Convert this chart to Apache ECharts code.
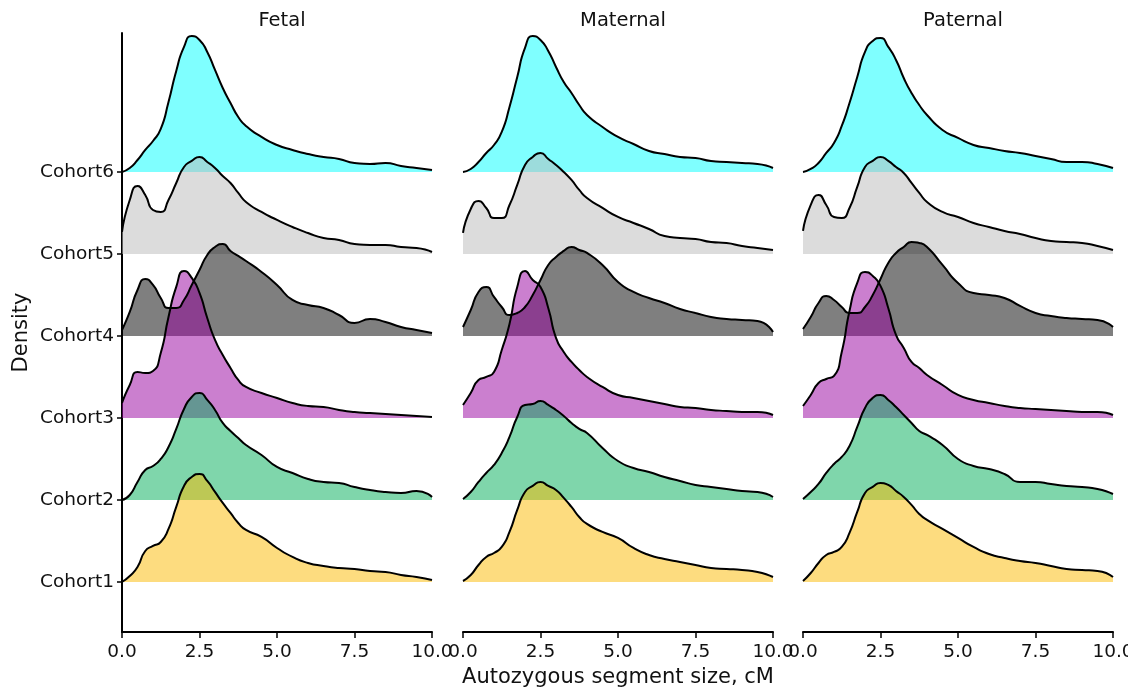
<!DOCTYPE html>
<html>
  <head>
    <meta charset="utf-8" />
    <title>Autozygous segment ridgeline</title>
    <script src="https://cdn.jsdelivr.net/npm/echarts@6.0.0/dist/echarts.min.js"></script>
  </head>
  <body style="margin: 0">
    <div id="chart" style="width: 1128px; height: 687px"></div>
    <script>
      /* ======= data ======= */
      var panels = ["Fetal", "Maternal", "Paternal"];
      var categories = ["Cohort1", "Cohort2", "Cohort3", "Cohort4", "Cohort5", "Cohort6"];
      var xTicks = [0, 2.5, 5, 7.5, 10];
      // segment size (cM) where the densities were read
      var xs = [0, 0.25, 0.5, 0.75, 1, 1.25, 1.5, 1.75, 2, 2.25, 2.5, 2.75, 3, 3.25, 3.5, 3.75, 4,
        4.5, 5, 5.5, 6, 6.5, 7, 7.5, 8, 8.5, 9, 9.5, 10];

      // relative density per cohort (Cohort1 .. Cohort6)
      var fetal = [
        [0, .06, .15, .31, .36, .40, .53, .75, .96, 1.05, 1.08, 1.01, .90, .79, .69, .59, .52, .45, .34, .25, .19, .16, .14, .13, .11, .10, .07, .05, .02],
        [0, .05, .18, .30, .34, .41, .53, .71, .91, 1.03, 1.07, 1.00, .90, .77, .69, .62, .55, .45, .33, .27, .21, .18, .17, .13, .10, .08, .07, .09, .03],
        [.15, .33, .46, .45, .47, .65, 1.01, 1.31, 1.47, 1.40, 1.25, 1.00, .78, .63, .50, .38, .31, .25, .20, .15, .12, .11, .08, .06, .05, .04, .03, .02, .01],
        [.06, .24, .46, .57, .51, .38, .28, .28, .36, .51, .66, .81, .89, .92, .85, .80, .75, .64, .51, .36, .31, .28, .21, .13, .17, .14, .09, .06, .03],
        [.22, .54, .68, .59, .44, .42, .54, .71, .87, .93, .97, .92, .86, .78, .71, .61, .52, .42, .34, .27, .21, .16, .14, .10, .09, .09, .07, .06, .02],
        [0, .04, .12, .22, .31, .43, .70, 1.01, 1.25, 1.36, 1.32, 1.20, 1.02, .84, .69, .55, .46, .35, .27, .22, .18, .15, .13, .09, .08, .09, .06, .04, .02]
      ];
      var maternal = [
        [.01, .07, .17, .25, .29, .35, .50, .72, .90, .96, 1.00, .96, .92, .84, .75, .65, .58, .50, .44, .34, .27, .23, .20, .17, .14, .13, .12, .10, .05],
        [.01, .08, .18, .27, .35, .47, .63, .83, .95, .96, .99, .95, .90, .84, .77, .71, .67, .52, .39, .32, .28, .23, .19, .15, .13, .11, .09, .08, .03],
        [.13, .25, .38, .41, .46, .68, .94, 1.31, 1.47, 1.38, 1.31, 1.10, .80, .66, .56, .48, .41, .31, .23, .20, .17, .14, .11, .10, .08, .07, .06, .06, .03],
        [.09, .26, .44, .49, .39, .29, .21, .23, .29, .41, .56, .71, .79, .85, .89, .86, .83, .71, .54, .44, .38, .33, .27, .23, .19, .17, .16, .15, .04],
        [.21, .45, .53, .46, .36, .36, .49, .69, .89, .97, 1.01, .95, .89, .82, .74, .64, .56, .46, .37, .31, .25, .18, .16, .15, .12, .11, .08, .06, .04],
        [0, .03, .10, .19, .27, .40, .65, .95, 1.24, 1.36, 1.32, 1.21, 1.05, .90, .79, .67, .57, .45, .35, .28, .21, .18, .15, .14, .11, .10, .09, .08, .04]
      ];
      var paternal = [
        [.01, .09, .19, .27, .30, .35, .49, .70, .89, .95, .99, .97, .91, .85, .77, .68, .62, .53, .44, .35, .28, .24, .21, .19, .16, .13, .12, .11, .05],
        [.01, .08, .16, .27, .36, .43, .54, .73, .92, 1.02, 1.05, 1.00, .93, .85, .77, .69, .65, .55, .41, .34, .31, .26, .18, .18, .16, .14, .13, .11, .06],
        [.12, .23, .35, .39, .42, .66, 1.07, 1.35, 1.46, 1.42, 1.32, 1.10, .83, .70, .56, .50, .43, .33, .23, .18, .15, .12, .10, .09, .08, .07, .06, .06, .03],
        [.07, .19, .33, .40, .36, .29, .23, .23, .29, .41, .57, .73, .83, .89, .94, .93, .89, .71, .53, .43, .41, .38, .30, .23, .20, .18, .17, .16, .09],
        [.23, .49, .59, .49, .37, .36, .46, .67, .87, .93, .97, .93, .87, .81, .71, .61, .52, .42, .37, .31, .27, .23, .20, .16, .13, .12, .11, .08, .04],
        [0, .03, .09, .19, .29, .46, .69, .95, 1.20, 1.31, 1.34, 1.25, 1.12, .94, .79, .67, .57, .42, .34, .27, .24, .21, .19, .16, .13, .10, .10, .08, .04]
      ];
      var panelData = [fetal, maternal, paternal];
      /* ======= */

      var fills = [
        "rgba(251,185,0,0.5)",
        "rgba(0,173,87,0.5)",
        "rgba(151,0,159,0.5)",
        "rgba(0,0,0,0.5)",
        "rgba(185,185,185,0.5)",
        "rgba(0,255,255,0.5)"
      ];
      var ridgeScale = 1.22; // density -> rows
      var font = "DejaVu Sans";
      var gridLefts = [122, 463, 803];
      var gridWidth = 310;

      var grid = [];
      var xAxis = [];
      var yAxis = [];
      var title = [];
      var series = [];

      panels.forEach(function(name, p) {
        grid.push({
          left: gridLefts[p],
          width: gridWidth,
          top: 33,
          bottom: 55,
          outerBoundsMode: "none"
        });
        title.push({
          text: name,
          left: gridLefts[p] + gridWidth / 2,
          textAlign: "center",
          top: 6,
          textStyle: { fontFamily: font, fontSize: 19.5, fontWeight: "normal", color: "#111" }
        });
        xAxis.push({
          type: "value",
          gridIndex: p,
          min: 0,
          max: 10,
          interval: 2.5,
          name: p === 1 ? "Autozygous segment size, cM" : "",
          nameLocation: "middle",
          nameGap: 31,
          nameTextStyle: { fontFamily: font, fontSize: 21, color: "#111" },
          axisLine: { onZero: false, lineStyle: { color: "#000", width: 2 } },
          axisTick: { length: 6, lineStyle: { color: "#000", width: 1.5 } },
          axisLabel: {
            margin: 11,
            fontFamily: font,
            fontSize: 18.5,
            color: "#111",
            formatter: function(v) { return v.toFixed(1); }
          },
          splitLine: { show: false }
        });
        yAxis.push({
          type: "value",
          gridIndex: p,
          min: -0.61,
          max: 6.695,
          show: p === 0,
          name: p === 0 ? "Density" : "",
          nameLocation: "middle",
          nameRotate: 90,
          nameGap: 90,
          nameTextStyle: { fontFamily: font, fontSize: 21, color: "#111" },
          axisLine: { show: true, onZero: false, lineStyle: { color: "#000", width: 2 } },
          axisTick: {
            show: true,
            length: 5,
            customValues: [0, 1, 2, 3, 4, 5],
            lineStyle: { color: "#000", width: 1.5 }
          },
          axisLabel: {
            margin: 8,
            fontFamily: font,
            fontSize: 18.5,
            color: "#111",
            customValues: [0, 1, 2, 3, 4, 5],
            formatter: function(v) { return categories[Math.round(v)]; }
          },
          splitLine: { show: false }
        });

        // top ridge first so lower ridges sit on top of it
        for (var k = categories.length - 1; k >= 0; k--) {
          var vals = panelData[p][k];
          series.push({
            name: name + " " + categories[k],
            type: "line",
            xAxisIndex: p,
            yAxisIndex: p,
            smooth: 0.6,
            showSymbol: false,
            silent: true,
            lineStyle: { color: "#000", width: 2 },
            areaStyle: { color: fills[k], opacity: 1, origin: k },
            data: xs.map(function(x, i) {
              return [x, k + vals[i] * ridgeScale];
            })
          });
        }
      });

      var option = {
        animation: false,
        backgroundColor: "#fff",
        title: title,
        grid: grid,
        xAxis: xAxis,
        yAxis: yAxis,
        series: series
      };

      var chart = echarts.init(document.getElementById("chart"));
      chart.setOption(option);
    </script>
  </body>
</html>
